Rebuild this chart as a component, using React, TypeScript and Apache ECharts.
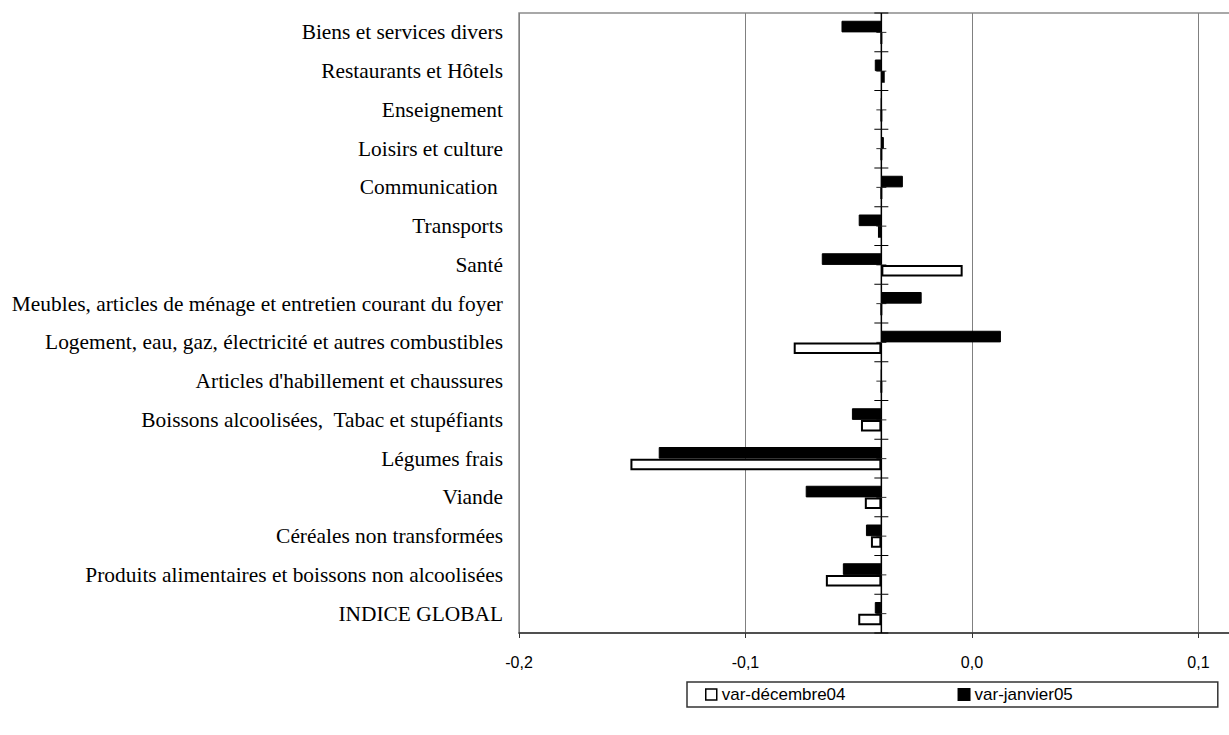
import React, { useEffect, useRef } from "react";
import * as echarts from "echarts";

// Categories, listed bottom-to-top as on the chart
const categories: string[] = [
  "INDICE GLOBAL",
  "Produits alimentaires et boissons non alcoolisées",
  "Céréales non transformées",
  "Viande",
  "Légumes frais",
  "Boissons alcoolisées,  Tabac et stupéfiants",
  "Articles d'habillement et chaussures",
  "Logement, eau, gaz, électricité et autres combustibles",
  "Meubles, articles de ménage et entretien courant du foyer",
  "Santé",
  "Transports",
  "Communication ",
  "Loisirs et culture",
  "Enseignement",
  "Restaurants et Hôtels",
  "Biens et services divers",
];

const varDecembre04: number[] = [
  -0.0502, -0.0645, -0.0446, -0.0473, -0.1508, -0.049, -0.04, -0.0787,
  -0.04, -0.0041, -0.0415, -0.04, -0.04, -0.04, -0.0385, -0.04,
];

const varJanvier05: number[] = [
  -0.0429, -0.057, -0.0468, -0.0734, -0.1383, -0.053, -0.04, 0.0128,
  -0.0222, -0.0663, -0.05, -0.0305, -0.0389, -0.04, -0.0429, -0.0576,
];

// Value at which the category axis crosses the value axis (bars start here)
const AXIS_CROSS = -0.04;

const X_MIN = -0.2;
const X_MAX = 0.14;
const X_STEP = 0.1;

const SERIES_DEC = "var-décembre04";
const SERIES_JAN = "var-janvier05";

export default function App() {
  const ref = useRef<HTMLDivElement>(null);

  useEffect(() => {
    if (!ref.current) return;
    const chart = echarts.init(ref.current, undefined, { renderer: "svg" });

    const barCommon = {
      type: "bar" as const,
      stackStrategy: "all" as const,
      barWidth: "30%",
      barGap: "0%",
    };

    const option: any = {
      animation: false,
      backgroundColor: "#fff",
      grid: {
        left: 519,
        top: 13,
        right: 11,
        bottom: 102,
        show: true,
        borderColor: "#8c8c8c",
        borderWidth: 1.5,
      },
      xAxis: {
        type: "value",
        min: X_MIN,
        max: X_MAX,
        interval: X_STEP,
        axisLine: { show: true, onZero: false, lineStyle: { color: "#333", width: 1.5 } },
        axisTick: { show: true, length: 5, lineStyle: { color: "#333" } },
        axisLabel: {
          formatter: (v: number) => v.toFixed(1).replace(".", ","),
          fontFamily: "Liberation Sans",
          fontSize: 16,
          color: "#000",
          margin: 21,
          showMaxLabel: false,
        },
        splitLine: { show: true, lineStyle: { color: "#808080", width: 1 } },
      },
      yAxis: {
        type: "category",
        data: categories,
        axisLine: { show: false },
        axisTick: { show: false },
        axisLabel: {
          interval: 0,
          fontFamily: "Liberation Serif",
          fontSize: 21.4,
          color: "#000",
          margin: 16,
        },
      },
      legend: {
        data: [
          {
            name: SERIES_DEC,
            icon: "rect",
            itemStyle: { color: "#fff", borderColor: "#000", borderWidth: 1.5 },
          },
          { name: SERIES_JAN, icon: "rect", itemStyle: { color: "#000" } },
        ],
        left: 687,
        top: 682,
        orient: "horizontal",
        itemWidth: 11,
        itemHeight: 11,
        itemGap: 112,
        padding: [4, 145, 4, 18],
        borderColor: "#333",
        borderWidth: 1.5,
        selectedMode: false,
        textStyle: { fontFamily: "Liberation Sans", fontSize: 17, color: "#000" },
      },
      series: [
        // category axis line + crossing ticks drawn at AXIS_CROSS
        {
          type: "custom",
          name: "axis",
          z: 1,
          silent: true,
          encode: { x: 0, y: 1 },
          data: categories.map((_, i) => [AXIS_CROSS, i]),
          renderItem: (params: any, api: any) => {
            const idx = api.value(1);
            const c = api.coord([api.value(0), idx]);
            const band = api.size([0, 1])[1];
            const children: any[] = [];
            const mk = (x1: number, y1: number, x2: number, y2: number, color: string, w: number) => ({
              type: "line",
              shape: { x1, y1, x2, y2 },
              style: { stroke: color, lineWidth: w },
            });
            children.push(mk(c[0], c[1] - band / 2, c[0], c[1] + band / 2, "#000", 1.5));
            children.push(mk(c[0] - 7, c[1] + band / 2, c[0] + 7, c[1] + band / 2, "#000", 1));
            if (idx === categories.length - 1) {
              children.push(mk(c[0] - 7, c[1] - band / 2, c[0] + 7, c[1] - band / 2, "#000", 1));
            }
            children.push(mk(c[0] - 5, c[1], c[0] + 5, c[1], "#333", 1));
            return { type: "group", children };
          },
        },
        {
          ...barCommon,
          name: "janBase",
          stack: "jan",
          z: 2,
          silent: true,
          data: varJanvier05.map(() => AXIS_CROSS),
          itemStyle: { color: "transparent" },
        },
        {
          ...barCommon,
          name: SERIES_JAN,
          stack: "jan",
          z: 3,
          data: varJanvier05.map((v) => +(v - AXIS_CROSS).toFixed(5)),
          itemStyle: { color: "#000", borderColor: "#000", borderWidth: 1 },
        },
        {
          ...barCommon,
          name: "decBase",
          stack: "dec",
          z: 2,
          silent: true,
          data: varDecembre04.map(() => AXIS_CROSS),
          itemStyle: { color: "transparent" },
        },
        {
          ...barCommon,
          name: SERIES_DEC,
          stack: "dec",
          z: 3,
          data: varDecembre04.map((v) => +(v - AXIS_CROSS).toFixed(5)),
          itemStyle: { color: "#fff", borderColor: "#000", borderWidth: 2 },
        },
      ],
    };

    chart.setOption(option);
    return () => chart.dispose();
  }, []);

  return (
    <div
      style={{
        position: "absolute",
        left: 0,
        top: 0,
        width: 1229,
        height: 735,
        overflow: "hidden",
      }}
    >
      <div ref={ref} style={{ width: 1300, height: 735 }} />
    </div>
  );
}
